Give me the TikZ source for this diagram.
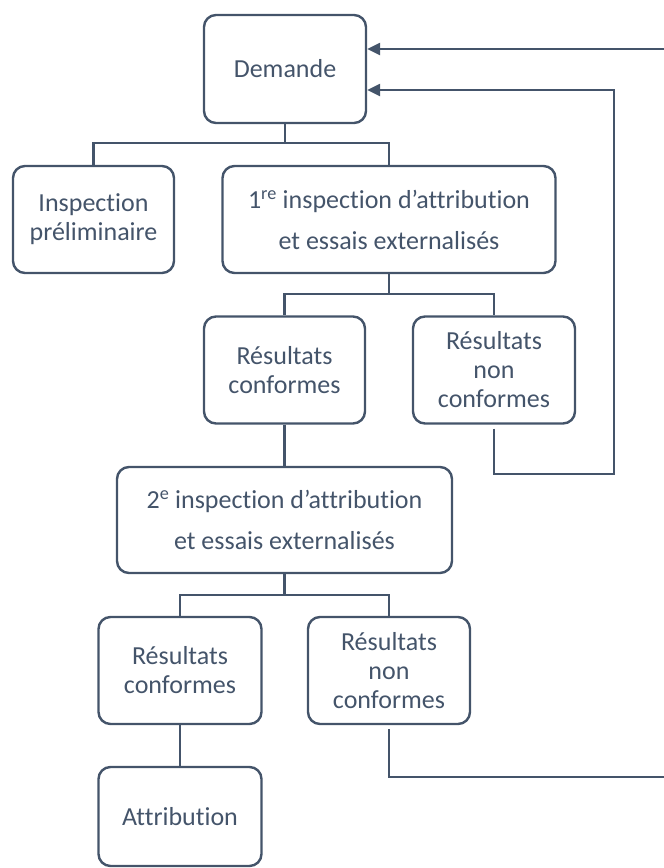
\documentclass[tikz,border=0pt]{standalone}
\usepackage{fontspec}
\setmainfont{Carlito}[RawFeature={-liga;-clig;-calt;-dlig}]
\usetikzlibrary{arrows.meta}
\definecolor{slate}{HTML}{44546A}
\begin{document}
\begin{tikzpicture}[x=1pt,y=-1pt,
  box/.style={draw=slate, line width=2.4pt, rounded corners=12pt, align=center,
    text=slate, inner sep=0pt, font=\fontsize{26}{29}\selectfont},
  widebox/.style={box, font=\fontsize{26}{41}\selectfont},
  conn/.style={draw=slate, line width=2.4pt},
  arr/.style={conn, -{Triangle[length=13pt,width=12pt]}}]
\useasboundingbox (0,0) rectangle (664,868);

\node[box, minimum width=162pt, minimum height=108pt] (dem) at (285,69) {Demande};
\node[box, minimum width=161pt, minimum height=107pt] (insp) at (93.5,219.5) {Inspection\\préliminaire};
\node[widebox, minimum width=333pt, minimum height=107pt] (ins1) at (389,219.5) {1\textsuperscript{re} inspection d’attribution\\et essais externalisés};
\node[box, minimum width=161pt, minimum height=107pt] (rc1) at (284.5,370) {Résultats\\conformes};
\node[box, minimum width=162pt, minimum height=107pt] (rnc1) at (494,370) {Résultats\\non\\conformes};
\node[widebox, minimum width=335pt, minimum height=106pt] (ins2) at (284.5,520) {2\textsuperscript{e} inspection d’attribution\\et essais externalisés};
\node[box, minimum width=163pt, minimum height=107pt] (rc2) at (180,670.5) {Résultats\\conformes};
\node[box, minimum width=162pt, minimum height=107pt] (rnc2) at (389,670.5) {Résultats\\non\\conformes};
\node[box, minimum width=163pt, minimum height=99pt] (att) at (180,816.5) {Attribution};

\coordinate (b1) at (285,143);
\coordinate (b2) at (389,294);
\coordinate (b3) at (284.5,595);
\coordinate (r1) at (614,474);
\coordinate (r2) at (614,90);
\coordinate (e1) at (668,49);
\coordinate (e2) at (668,777);

\draw[conn] (dem.south) -- (b1);
\draw[conn] (insp.north) |- (b1) -| (ins1.north);
\draw[conn] (ins1.south) -- (b2);
\draw[conn] (rc1.north) |- (b2) -| (rnc1.north);
\draw[conn] (rc1.south) -- (ins2.north);
\draw[conn] (ins2.south) -- (b3);
\draw[conn] (rc2.north) |- (b3) -| (rnc2.north);
\draw[conn] (rc2.south) -- (att.north);

\draw[arr] (e1) -- (e1 -| dem.east);
\draw[arr] ([yshift=-4pt]rnc1.south) |- (r1) -- (r2) -- (r2 -| dem.east);
\draw[conn] ([yshift=-4pt]rnc2.south) |- (e2);
\end{tikzpicture}
\end{document}
